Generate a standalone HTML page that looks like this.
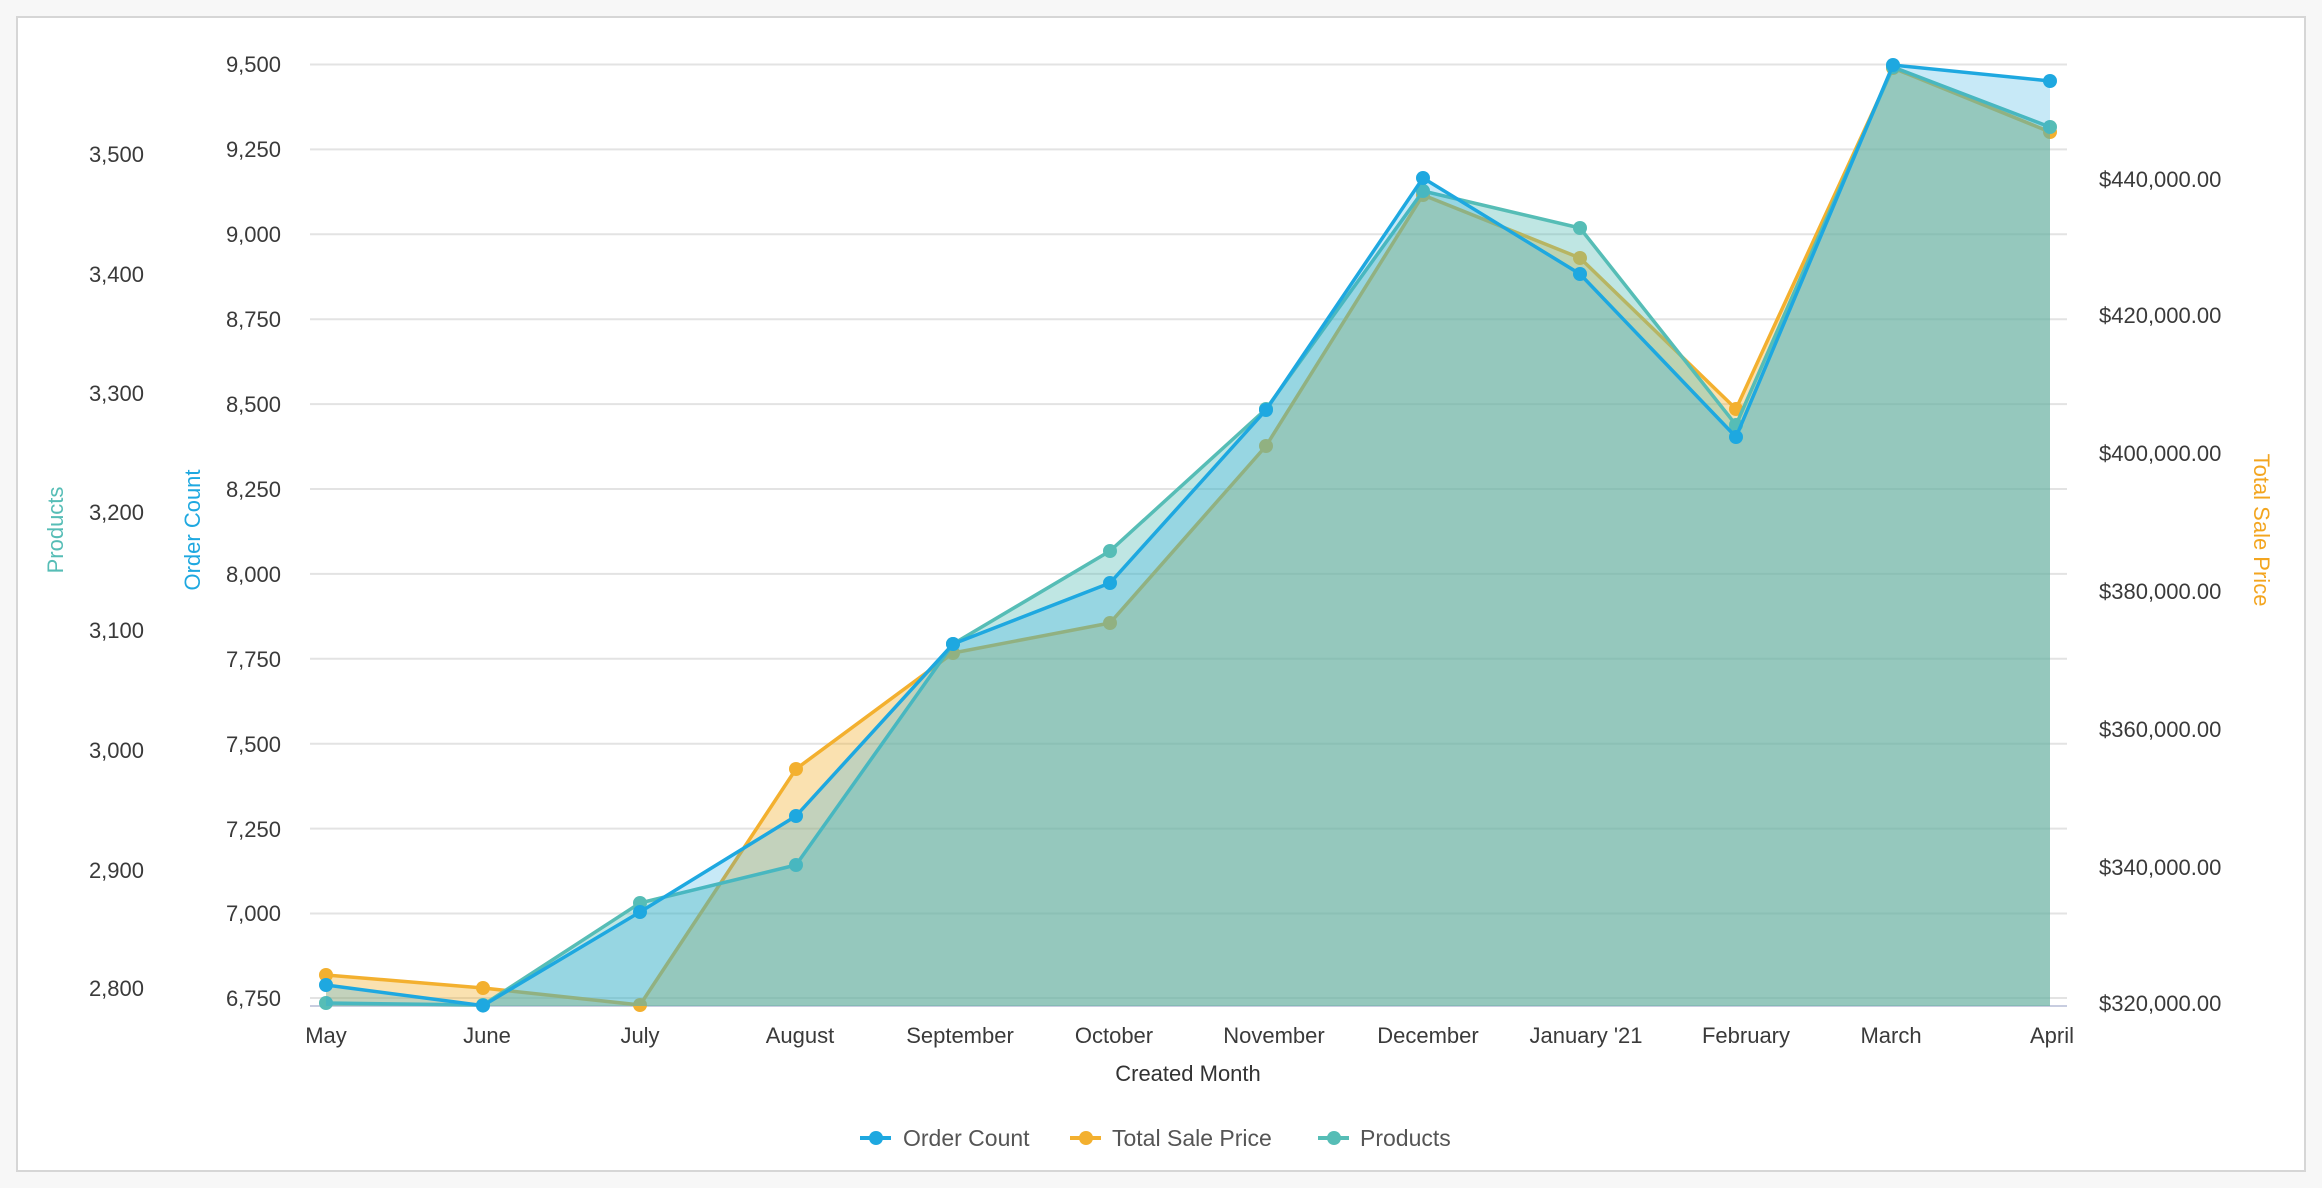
<!DOCTYPE html>
<html><head><meta charset="utf-8"><style>
html,body{margin:0;padding:0;background:#fff;}
svg{display:block;font-family:"Liberation Sans",sans-serif;}
</style></head><body>
<svg width="2322" height="1188" viewBox="0 0 2322 1188" xmlns="http://www.w3.org/2000/svg">
<rect x="0" y="0" width="2322" height="1188" fill="#f7f7f7"/>
<rect x="17" y="17" width="2288" height="1154" fill="#fff" stroke="#d6d6d6" stroke-width="2"/>
<g stroke="#e3e3e3" stroke-width="2">
<line x1="310" x2="2067" y1="64.5" y2="64.5"/><line x1="310" x2="2067" y1="149.4" y2="149.4"/>
<line x1="310" x2="2067" y1="234.3" y2="234.3"/><line x1="310" x2="2067" y1="319.2" y2="319.2"/>
<line x1="310" x2="2067" y1="404.1" y2="404.1"/><line x1="310" x2="2067" y1="489" y2="489"/>
<line x1="310" x2="2067" y1="573.9" y2="573.9"/><line x1="310" x2="2067" y1="658.8" y2="658.8"/>
<line x1="310" x2="2067" y1="743.7" y2="743.7"/><line x1="310" x2="2067" y1="828.6" y2="828.6"/>
<line x1="310" x2="2067" y1="913.5" y2="913.5"/><line x1="310" x2="2067" y1="998" y2="998"/>
</g>
<line x1="310" x2="2067" y1="1006" y2="1006" stroke="#c8cde0" stroke-width="2"/>
<g font-size="22" fill="#3a3a3a" text-anchor="end">
<text x="281" y="72">9,500</text><text x="281" y="157">9,250</text><text x="281" y="242">9,000</text>
<text x="281" y="327">8,750</text><text x="281" y="412">8,500</text><text x="281" y="497">8,250</text>
<text x="281" y="582">8,000</text><text x="281" y="667">7,750</text><text x="281" y="752">7,500</text>
<text x="281" y="837">7,250</text><text x="281" y="921">7,000</text><text x="281" y="1006">6,750</text>
<text x="144" y="162">3,500</text><text x="144" y="282">3,400</text><text x="144" y="401">3,300</text>
<text x="144" y="520">3,200</text><text x="144" y="638">3,100</text><text x="144" y="758">3,000</text>
<text x="144" y="878">2,900</text><text x="144" y="996">2,800</text>
</g>
<g font-size="22" fill="#3a3a3a">
<text x="2099" y="187">$440,000.00</text><text x="2099" y="323">$420,000.00</text>
<text x="2099" y="461">$400,000.00</text><text x="2099" y="599">$380,000.00</text>
<text x="2099" y="737">$360,000.00</text><text x="2099" y="875">$340,000.00</text>
<text x="2099" y="1011">$320,000.00</text>
</g>
<text transform="translate(63,530) rotate(-90)" font-size="22" fill="#56bdb6" text-anchor="middle">Products</text>
<text transform="translate(200,530) rotate(-90)" font-size="22" fill="#1ea8e0" text-anchor="middle">Order Count</text>
<text transform="translate(2254,530) rotate(90)" font-size="22" fill="#f3a51f" text-anchor="middle">Total Sale Price</text>

<!-- orange -->
<polygon fill="#f3b02f" fill-opacity="0.38" points="326,1006 326,975 483,988 640,1005 796,769 953,653 1110,623 1266,446 1423,195 1580,258 1736,409 1893,68 2050,132 2050,1006"/>
<polyline fill="none" stroke-width="3.5" stroke-linejoin="round" stroke="#f3b02f" points="326,975 483,988 640,1005 796,769 953,653 1110,623 1266,446 1423,195 1580,258 1736,409 1893,68 2050,132"/>
<g fill="#f3b02f"><circle cx="326" cy="975" r="7"/><circle cx="483" cy="988" r="7"/><circle cx="640" cy="1005" r="7"/><circle cx="796" cy="769" r="7"/><circle cx="953" cy="653" r="7"/><circle cx="1110" cy="623" r="7"/><circle cx="1266" cy="446" r="7"/><circle cx="1423" cy="195" r="7"/><circle cx="1580" cy="258" r="7"/><circle cx="1736" cy="409" r="7"/><circle cx="1893" cy="68" r="7"/><circle cx="2050" cy="132" r="7"/></g>

<!-- teal -->
<polygon fill="#56bdb6" fill-opacity="0.38" points="326,1006 326,1003 483,1005 640,903 796,865 953,644 1110,551 1266,409 1423,191 1580,228 1736,425 1893,67 2050,127 2050,1006"/>
<polyline fill="none" stroke-width="3.5" stroke-linejoin="round" stroke="#56bdb6" points="326,1003 483,1005 640,903 796,865 953,644 1110,551 1266,409 1423,191 1580,228 1736,425 1893,67 2050,127"/>
<g fill="#56bdb6"><circle cx="326" cy="1003" r="7"/><circle cx="483" cy="1005" r="7"/><circle cx="640" cy="903" r="7"/><circle cx="796" cy="865" r="7"/><circle cx="953" cy="644" r="7"/><circle cx="1110" cy="551" r="7"/><circle cx="1266" cy="409" r="7"/><circle cx="1423" cy="191" r="7"/><circle cx="1580" cy="228" r="7"/><circle cx="1736" cy="425" r="7"/><circle cx="1893" cy="67" r="7"/><circle cx="2050" cy="127" r="7"/></g>

<!-- blue -->
<polygon fill="#1ea8e0" fill-opacity="0.25" points="326,1006 326,985 483,1005.6 640,912 796,816 953,644 1110,583 1266,410 1423,178 1580,274 1736,437 1893,65 2050,81 2050,1006"/>
<polyline fill="none" stroke-width="3.5" stroke-linejoin="round" stroke="#1ea8e0" points="326,985 483,1005.6 640,912 796,816 953,644 1110,583 1266,410 1423,178 1580,274 1736,437 1893,65 2050,81"/>
<g fill="#1ea8e0"><circle cx="326" cy="985" r="7"/><circle cx="483" cy="1005.6" r="7"/><circle cx="640" cy="912" r="7"/><circle cx="796" cy="816" r="7"/><circle cx="953" cy="644" r="7"/><circle cx="1110" cy="583" r="7"/><circle cx="1266" cy="410" r="7"/><circle cx="1423" cy="178" r="7"/><circle cx="1580" cy="274" r="7"/><circle cx="1736" cy="437" r="7"/><circle cx="1893" cy="65" r="7"/><circle cx="2050" cy="81" r="7"/></g>

<g font-size="22" fill="#3a3a3a" text-anchor="middle">
<text x="326" y="1043">May</text><text x="487" y="1043">June</text><text x="640" y="1043">July</text>
<text x="800" y="1043">August</text><text x="960" y="1043">September</text><text x="1114" y="1043">October</text>
<text x="1274" y="1043">November</text><text x="1428" y="1043">December</text><text x="1586" y="1043">January '21</text>
<text x="1746" y="1043">February</text><text x="1891" y="1043">March</text><text x="2052" y="1043">April</text>
<text x="1188" y="1081" fill="#333">Created Month</text>
</g>
<g font-size="23" fill="#555">
<line x1="860" x2="891" y1="1138" y2="1138" stroke="#1ea8e0" stroke-width="4"/><circle cx="876" cy="1138" r="7" fill="#1ea8e0"/>
<text x="903" y="1146">Order Count</text>
<line x1="1070" x2="1101" y1="1138" y2="1138" stroke="#f3b02f" stroke-width="4"/><circle cx="1086" cy="1138" r="7" fill="#f3b02f"/>
<text x="1112" y="1146">Total Sale Price</text>
<line x1="1318" x2="1349" y1="1138" y2="1138" stroke="#56bdb6" stroke-width="4"/><circle cx="1334" cy="1138" r="7" fill="#56bdb6"/>
<text x="1360" y="1146">Products</text>
</g>
</svg>
</body></html>
